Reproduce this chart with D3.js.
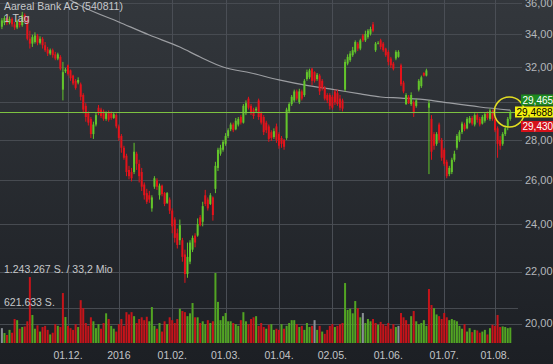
<!DOCTYPE html>
<html>
<head>
<meta charset="utf-8">
<title>Aareal Bank AG (540811)</title>
<style>
    body { margin: 0; background: #23262b; }
    svg { display: block; font-family: "Liberation Sans", Arial, sans-serif; }
</style>
</head>
<body>
<main></main>
<script src="https://cdn.jsdelivr.net/npm/d3@7/dist/d3.min.js"></script>
<script>
// Tageskerzen, 26.10.2015 - 09.08.2016 (Index = Handelstag)
var opens = [34.45,34.70,35.00,34.70,34.95,34.60,34.40,34.80,34.55,35.20,
    34.90,33.70,33.40,33.50,33.90,33.45,33.70,33.30,33.05,32.80,
    33.00,32.75,32.50,32.60,30.70,31.75,32.10,31.80,31.50,31.20,
    31.10,31.00,30.40,29.80,29.40,29.10,28.30,28.80,29.70,29.60,
    29.50,29.10,29.45,29.40,29.15,29.30,28.70,28.20,27.60,27.20,
    26.50,26.40,26.40,27.30,26.80,26.40,25.80,25.40,25.30,24.70,
    25.70,26.00,25.30,25.75,25.40,24.95,25.10,24.60,24.20,23.60,
    23.30,23.30,22.70,21.90,22.40,22.90,23.50,23.50,24.30,24.10,
    25.30,25.10,24.90,25.20,25.60,26.60,27.30,27.50,27.80,28.20,
    28.55,28.80,28.55,28.80,29.20,28.90,29.40,30.20,29.80,29.60,
    29.55,30.10,29.40,29.20,28.90,28.70,28.40,28.15,28.70,28.30,
    28.10,28.00,28.10,29.50,29.90,30.10,30.60,30.00,30.60,30.40,
    31.30,31.40,31.90,31.70,31.30,31.50,31.20,30.80,30.40,30.40,
    30.30,30.60,30.50,30.20,30.10,30.70,32.20,32.40,32.70,32.90,
    33.40,33.10,33.90,33.60,33.80,34.00,34.60,33.00,33.40,33.60,
    33.40,33.10,32.90,32.50,32.20,32.50,32.60,32.10,31.10,29.90,
    30.30,29.90,30.00,29.80,30.70,30.90,31.65,31.50,29.70,29.10,
    28.30,27.80,28.80,28.00,27.50,26.90,26.30,26.40,27.00,27.60,
    28.00,28.40,28.80,28.60,28.90,29.15,28.80,29.30,29.10,28.85,
    29.00,29.40,29.10,29.50,29.10,28.60,28.00,27.80,28.30,28.70,
    29.10];
var highs = [35.00,35.15,35.10,35.10,35.05,34.75,34.90,34.95,35.40,35.30,
    35.10,34.20,33.95,34.10,34.00,33.85,33.80,33.50,33.20,33.10,
    33.10,32.90,32.85,32.70,32.30,31.95,32.15,31.85,31.55,31.30,
    31.40,31.10,30.50,29.95,29.50,29.20,28.95,29.45,29.85,29.70,
    29.60,29.50,29.55,29.50,29.45,29.40,28.80,28.30,27.70,27.30,
    26.70,26.60,27.85,27.40,27.00,26.60,25.90,25.60,25.50,25.30,
    26.20,26.10,25.85,25.80,25.45,25.45,25.20,24.70,24.30,23.80,
    24.20,23.40,22.90,23.20,23.30,23.50,23.60,24.25,24.40,25.00,
    25.55,25.20,25.40,25.25,26.90,27.60,27.75,28.00,28.35,28.60,
    28.90,28.90,29.15,29.20,29.30,29.90,30.10,30.30,29.90,29.70,
    29.75,30.20,29.50,29.30,29.00,28.80,28.50,28.60,28.85,28.40,
    28.20,28.05,29.70,30.00,30.40,30.70,30.70,30.75,30.70,31.30,
    31.85,31.90,31.95,31.75,31.65,31.60,31.30,30.90,30.50,30.50,
    30.40,30.70,30.70,30.40,30.20,32.45,32.75,32.95,33.20,33.60,
    33.50,33.70,34.00,34.20,34.30,34.45,34.75,33.50,33.55,33.70,
    33.50,33.15,33.00,32.60,32.30,33.00,33.00,32.20,31.20,30.50,
    30.40,30.55,30.10,30.20,31.30,31.50,31.70,31.90,30.10,29.30,
    28.40,28.40,28.90,28.10,27.60,27.00,26.70,27.10,27.45,28.30,
    28.50,28.95,28.90,29.20,29.25,29.25,29.40,29.40,29.20,29.30,
    29.45,29.50,29.65,29.60,29.20,28.70,28.20,28.40,28.75,29.20,
    29.57];
var lows = [34.30,34.55,34.55,34.60,34.45,34.25,34.30,34.40,34.45,34.70,
    33.60,33.10,33.20,33.40,33.30,33.35,33.10,32.90,32.65,32.70,
    32.55,32.40,32.40,31.80,30.10,31.65,31.50,31.20,30.95,30.70,
    31.00,30.10,29.40,28.95,28.75,28.10,28.05,28.70,29.30,29.15,
    29.00,29.00,28.95,29.05,29.10,28.60,27.95,27.35,27.00,26.20,
    26.05,25.95,26.30,26.50,25.90,25.50,25.10,24.90,24.95,24.55,
    25.60,25.55,25.10,25.25,24.80,24.90,24.45,23.60,23.20,22.95,
    23.10,22.40,21.55,21.75,22.30,22.80,23.00,23.45,23.90,23.90,
    24.80,24.60,24.85,24.15,25.40,26.45,27.20,27.40,27.70,28.10,
    28.45,28.40,28.50,28.70,28.80,28.85,29.30,29.60,29.30,29.10,
    29.45,29.05,28.80,28.25,28.35,27.90,27.95,28.05,27.85,27.55,
    27.60,27.50,28.00,29.40,29.80,30.00,30.10,29.90,30.10,30.30,
    31.20,31.30,30.95,31.10,31.20,30.40,30.65,30.10,29.95,29.60,
    29.60,29.85,29.80,29.55,29.50,30.60,32.10,32.30,32.60,32.80,
    32.95,33.00,33.50,33.50,33.70,33.90,34.10,32.90,33.35,33.05,
    32.90,32.60,32.10,31.95,31.80,32.40,32.55,30.90,30.50,29.85,
    29.90,29.80,29.20,29.70,30.60,30.80,31.45,31.45,26.30,27.00,
    27.50,27.70,27.85,26.95,26.70,26.10,26.20,26.30,26.90,27.50,
    27.90,28.30,28.45,28.55,28.85,28.75,28.70,28.90,28.70,28.80,
    28.90,29.05,29.00,29.00,28.40,27.10,27.50,27.70,28.20,28.50,
    29.00];
var closes = [34.85,35.00,34.70,34.95,34.60,34.40,34.80,34.55,35.20,34.90,
    33.70,33.40,33.80,33.90,33.45,33.70,33.30,33.00,32.80,33.00,
    32.70,32.50,32.75,31.90,31.70,31.85,31.60,31.35,31.05,30.80,
    31.25,30.30,29.60,29.20,28.90,28.30,28.80,29.30,29.40,29.25,
    29.10,29.40,29.05,29.15,29.35,28.70,28.10,27.60,27.10,26.40,
    26.20,26.10,27.40,26.80,26.20,25.70,25.30,25.00,25.10,25.20,
    26.10,25.70,25.75,25.35,24.90,25.40,24.60,23.90,23.40,23.10,
    23.95,22.60,21.90,22.60,23.20,23.40,23.20,24.00,23.95,24.80,
    24.90,24.70,25.30,24.40,26.70,27.50,27.60,27.90,28.20,28.50,
    28.80,28.50,29.00,29.10,28.90,29.80,29.95,29.70,29.40,29.25,
    29.65,29.20,28.90,28.40,28.50,28.05,28.10,28.45,28.00,27.70,
    27.80,27.65,29.60,29.90,30.30,30.60,30.20,30.60,30.20,31.20,
    31.70,31.80,31.20,31.20,31.55,30.60,30.80,30.20,30.10,29.80,
    29.70,30.00,29.90,29.70,29.65,32.30,32.60,32.80,33.00,33.50,
    33.10,33.60,33.60,34.00,34.20,34.30,34.20,33.40,33.45,33.20,
    33.00,32.70,32.30,32.10,31.90,32.90,32.90,31.00,30.60,30.40,
    29.95,30.40,29.40,30.10,31.20,31.40,31.50,31.80,29.95,27.40,
    27.70,28.30,28.00,27.10,26.80,26.20,26.60,27.00,27.30,28.20,
    28.40,28.85,28.55,29.10,29.15,28.85,29.30,29.05,28.80,29.20,
    29.35,29.15,29.55,29.10,28.50,27.80,27.70,28.30,28.60,29.10,
    29.47];
// Umsatz in Tausend Stück
var volumes = [260,175,140,230,180,420,400,250,280,290,
    380,1155,490,250,310,200,280,300,230,150,
    180,330,300,280,875,455,300,260,230,330,
    280,750,610,350,300,450,380,260,330,250,
    350,520,420,300,250,200,330,420,300,540,
    500,540,470,350,420,450,400,460,380,630,
    300,250,350,200,380,330,450,400,350,420,
    600,560,540,470,520,700,450,450,350,380,
    330,400,350,380,1226,720,400,470,525,380,
    380,350,330,300,400,540,380,330,420,450,
    470,300,350,280,250,320,330,230,250,230,
    330,250,300,350,400,400,330,280,300,230,
    350,280,300,400,230,300,200,160,230,300,
    330,280,300,330,350,1050,580,600,520,735,
    610,450,525,350,420,380,420,350,320,370,
    330,300,350,250,330,280,300,525,450,400,
    330,470,560,380,330,350,400,300,945,665,
    610,500,470,420,525,450,400,420,400,380,
    300,250,330,200,260,190,230,220,180,200,
    230,150,260,320,300,490,280,290,280,260,
    270];

// 200-Tage-Linie (Stützpunkte)
var maIdx = [24, 32, 46, 58, 70, 78, 87, 98, 109, 121, 129, 141, 149, 157, 168, 176, 188, 200];
var maVal = [36.45, 35.72, 34.75, 33.93, 33.19, 32.59, 32.00, 31.65, 31.25, 30.91, 30.74, 30.46, 30.29, 30.23, 30.12, 29.96, 29.74, 29.57];

var priceTicks = [20, 22, 24, 26, 28, 30, 32, 34, 36];
var tickIdx = [26, 46, 67, 88, 109, 130, 152, 174, 194];
var tickLabels = ["01.12.", "2016", "01.02.", "01.03.", "01.04.", "02.05.", "01.06.", "01.07.", "01.08."];

var lastPrice = 29.4688;
var quoteLabels = ["29,465", "29,4688", "29,430"];
var volMax = 1243.267;

var width = 553;
var height = 364;
var n = closes.length;

var svg = d3.select("main")
    .append("svg")
    .attr("width", width)
    .attr("height", height);

// Hintergrund mit Verlauf
var grad = svg.append("defs").append("linearGradient")
    .attr("id", "bg").attr("x1", 0).attr("y1", 0).attr("x2", 0).attr("y2", 1);
grad.append("stop").attr("offset", "0%").attr("stop-color", "#33373c");
grad.append("stop").attr("offset", "100%").attr("stop-color", "#1c1f24");
svg.append("rect").attr("width", width).attr("height", height).attr("fill", "url(#bg)");

svg.select("defs").append("clipPath").attr("id", "plot")
    .append("rect").attr("x", 0).attr("y", 0).attr("width", 516).attr("height", 343);

var x = d3.scaleLinear().domain([0, n - 1]).range([1.9, 510.3]);
var y = d3.scaleLog().domain([20, 36]).range([323.6, 2.7]);
var yv = d3.scaleLinear().domain([0, volMax]).range([343, 272]);

var green = "#63c52b", red = "#e4131b";

// Gitter
svg.append("g").selectAll("line")
    .data(priceTicks)
    .enter().append("line")
    .attr("x1", 0).attr("x2", 522)
    .attr("y1", function (d) { return Math.round(y(d)) + 0.5; })
    .attr("y2", function (d) { return Math.round(y(d)) + 0.5; })
    .attr("stroke", "#474b51");

svg.append("g").selectAll("line")
    .data([volMax, volMax / 2])
    .enter().append("line")
    .attr("x1", 0).attr("x2", 518)
    .attr("y1", function (d) { return Math.round(yv(d)) + 0.5; })
    .attr("y2", function (d) { return Math.round(yv(d)) + 0.5; })
    .attr("stroke", "#474b51");

svg.append("g").selectAll("line")
    .data(tickIdx)
    .enter().append("line")
    .attr("x1", function (d) { return Math.round(x(d)) + 0.5; })
    .attr("x2", function (d) { return Math.round(x(d)) + 0.5; })
    .attr("y1", 0).attr("y2", 343)
    .attr("stroke", "#4a4e55");

// Umsatzbalken, Farbe nach Veränderung zum Vortag
svg.append("g").selectAll("rect")
    .data(volumes)
    .enter().append("rect")
    .attr("x", function (d, i) { return x(i) - 1; })
    .attr("y", function (d) { return yv(d); })
    .attr("width", 2)
    .attr("height", function (d) { return 343 - yv(d); })
    .attr("fill", function (d, i) {
        if (i === 0) return "#8b9096";
        if (closes[i] > closes[i - 1]) return "#52a423";
        if (closes[i] < closes[i - 1]) return "#c5141a";
        return "#8b9096";
    });

var chart = svg.append("g").attr("clip-path", "url(#plot)");

// 200-Tage-Linie
var ma = maIdx.map(function (d, i) { return [d, maVal[i]]; });
chart.append("path")
    .datum(ma)
    .attr("fill", "none")
    .attr("stroke", "#9c9ea2")
    .attr("stroke-width", 1.2)
    .attr("d", d3.line()
        .x(function (d) { return x(d[0]); })
        .y(function (d) { return y(d[1]); })
        .curve(d3.curveMonotoneX));

// Kerzen
var candles = chart.selectAll("g.candle")
    .data(d3.range(n))
    .enter().append("g")
    .attr("class", "candle");

candles.append("line")
    .attr("x1", function (i) { return x(i); })
    .attr("x2", function (i) { return x(i); })
    .attr("y1", function (i) { return y(highs[i]); })
    .attr("y2", function (i) { return y(lows[i]); })
    .attr("stroke", function (i) { return closes[i] >= opens[i] ? green : red; })
    .attr("stroke-width", 1);

candles.append("rect")
    .attr("x", function (i) { return x(i) - 1; })
    .attr("y", function (i) { return y(Math.max(opens[i], closes[i])); })
    .attr("width", 2)
    .attr("height", function (i) {
        return Math.max(1, Math.abs(y(opens[i]) - y(closes[i])));
    })
    .attr("fill", function (i) { return closes[i] >= opens[i] ? green : red; });

// aktueller Kurs
var yl = y(lastPrice);
svg.append("line")
    .attr("x1", 0).attr("x2", 516)
    .attr("y1", Math.round(yl) + 0.5).attr("y2", Math.round(yl) + 0.5)
    .attr("stroke", "#7dc241");

svg.append("circle")
    .attr("cx", x(n - 1) - 1).attr("cy", yl)
    .attr("r", 15)
    .attr("fill", "none")
    .attr("stroke", "#e2dd22")
    .attr("stroke-width", 1.5);

// Achsenbeschriftung rechts (30,00 liegt unter den Kursfeldern)
svg.append("g").selectAll("text")
    .data(priceTicks.filter(function (d) { return d !== 30; }))
    .enter().append("text")
    .attr("x", 525)
    .attr("y", function (d) { return y(d); })
    .attr("dy", "0.35em")
    .attr("fill", "#b4b7bb")
    .attr("font-size", "11px")
    .text(function (d) { return d.toFixed(2).replace(".", ","); });

// Datumsachse
svg.append("g").selectAll("text")
    .data(tickIdx)
    .enter().append("text")
    .attr("x", function (d) { return x(d); })
    .attr("y", 355)
    .attr("dy", "0.35em")
    .attr("text-anchor", "middle")
    .attr("fill", "#c3c5c8")
    .attr("font-size", "10.5px")
    .text(function (d, i) { return tickLabels[i]; });

// Titel und Umsatzskala
var labels = [
    {t: "Aareal Bank AG (540811)", y: 6},
    {t: "1 Tag", y: 18},
    {t: "1.243.267 S. / 33,2 Mio", y: yv(volMax) - 3},
    {t: "621.633 S.", y: yv(volMax / 2) - 5}
];
svg.append("g").selectAll("text")
    .data(labels)
    .enter().append("text")
    .attr("x", 4)
    .attr("y", function (d) { return d.y; })
    .attr("dy", "0.35em")
    .attr("fill", "#c6c8cb")
    .attr("font-size", "10.5px")
    .text(function (d) { return d.t; });

// Kursfelder rechts
var boxes = [
    {t: quoteLabels[0], dy: -12, x: 521, fill: "#1d8a1f", color: "#ffffff"},
    {t: quoteLabels[1], dy: 0, x: 515, fill: "#f4f10f", color: "#000000"},
    {t: quoteLabels[2], dy: 14.5, x: 521, fill: "#d5121b", color: "#ffffff"}
];
var box = svg.append("g").selectAll("g")
    .data(boxes)
    .enter().append("g");
box.append("rect")
    .attr("x", function (d) { return d.x; })
    .attr("y", function (d) { return yl + d.dy - 5.5; })
    .attr("width", function (d) { return width - d.x; })
    .attr("height", 11)
    .attr("fill", function (d) { return d.fill; });
box.append("text")
    .attr("x", function (d) { return d.x + 1.5; })
    .attr("y", function (d) { return yl + d.dy; })
    .attr("dy", "0.36em")
    .attr("fill", function (d) { return d.color; })
    .attr("font-size", "10px")
    .text(function (d) { return d.t; });
</script>
</body>
</html>
